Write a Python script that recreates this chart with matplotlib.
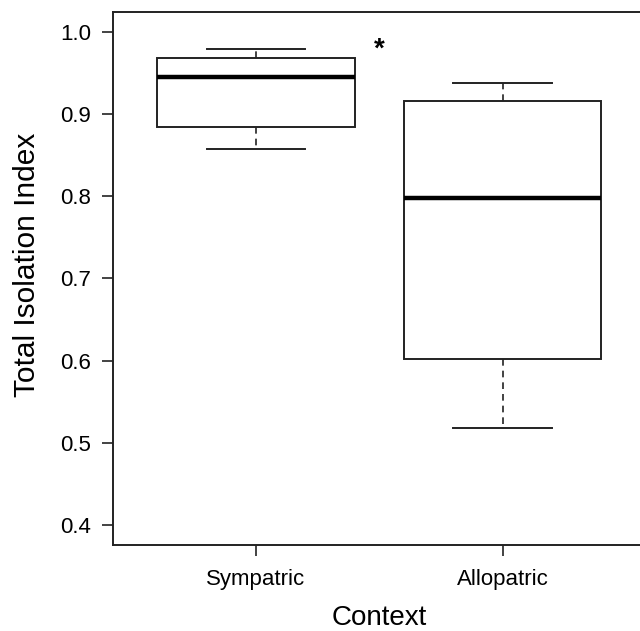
import matplotlib
matplotlib.use("Agg")
import matplotlib.pyplot as plt

plt.rcParams['font.family'] = ['Liberation Sans', 'DejaVu Sans']

# box statistics
groups = ['Sympatric', 'Allopatric']
whislo = [0.857, 0.518]
q1 = [0.884, 0.602]
med = [0.945, 0.798]
q3 = [0.968, 0.916]
whishi = [0.979, 0.937]
yticks = [0.4, 0.5, 0.6, 0.7, 0.8, 0.9, 1.0]

stats = []
for i in range(len(groups)):
    stats.append(dict(label=groups[i], whislo=whislo[i], q1=q1[i], med=med[i],
                      q3=q3[i], whishi=whishi[i], fliers=[]))

ink = '#222222'
fig = plt.figure(figsize=(6.4, 6.31), dpi=100)
ax = fig.add_axes([0.1766, 0.1363, 0.832, 0.845])

ax.bxp(stats, positions=[1, 2], widths=0.8, showfliers=False,
       patch_artist=True,
       boxprops=dict(facecolor='white', edgecolor=ink, linewidth=1.4),
       medianprops=dict(color='black', linewidth=3.2, solid_capstyle='butt'),
       whiskerprops=dict(color=ink, linewidth=1.2, linestyle=(0, (4, 3))),
       capprops=dict(color=ink, linewidth=1.4),
       capwidths=0.4)

ax.set_xlim(0.42, 2.58)
ax.set_ylim(0.376, 1.024)
ax.set_yticks(yticks)
ax.set_yticklabels(['%.1f' % v for v in yticks])
ax.set_xticks([1, 2])
ax.set_xticklabels(groups)

for s in ax.spines.values():
    s.set_color(ink)
    s.set_linewidth(1.4)

ax.tick_params(axis='both', direction='out', length=8, width=1.2, color=ink,
               labelsize=16, labelcolor='black')
ax.tick_params(axis='y', pad=8)
ax.tick_params(axis='x', pad=9)

ax.set_ylabel('Total Isolation Index', fontsize=21.5, va='center')
ax.yaxis.set_label_coords(-0.161, 0.525)
ax.set_xlabel('Context', fontsize=20, va='center')
ax.xaxis.set_label_coords(0.5, -0.136)

ax.text(1.5, 0.978, '*', fontsize=20, ha='center', va='center', fontweight='bold')

fig.savefig('out.png', dpi=100)
